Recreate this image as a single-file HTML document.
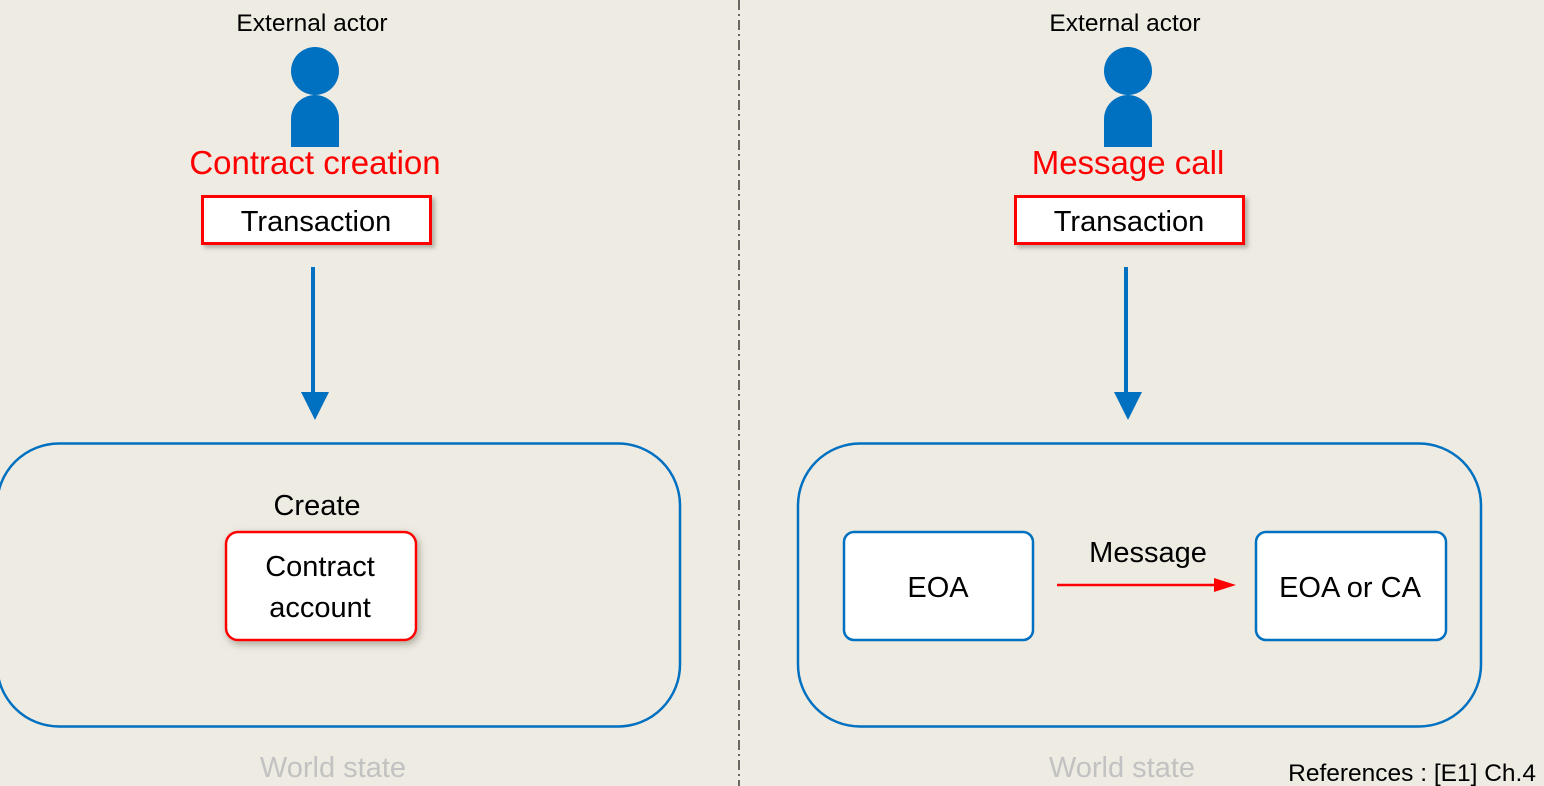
<!DOCTYPE html>
<html><head><style>
html,body{margin:0;padding:0;background:#eeebe3;}
svg{display:block;font-family:"Liberation Sans",Arial,sans-serif;}
</style></head><body>
<svg width="1544" height="786" viewBox="0 0 1544 786">
<defs>
<filter id="sh" x="-20%" y="-20%" width="140%" height="140%"><feDropShadow dx="2" dy="3" stdDeviation="4" flood-color="#8a8a7a" flood-opacity="0.7"/></filter>
<filter id="sh2" x="-20%" y="-30%" width="140%" height="160%"><feDropShadow dx="3" dy="3" stdDeviation="2" flood-color="#8a8a7a" flood-opacity="0.6"/></filter>
</defs>
<rect width="1544" height="786" fill="#eeebe3"/>
<line x1="739" y1="0" x2="739" y2="786" stroke="#222" stroke-width="1.3" stroke-dasharray="10,4,2,4"/>

<!-- Left -->
<text x="312" y="31" font-size="24.5" text-anchor="middle" fill="#000">External actor</text>
<circle cx="315" cy="71" r="24" fill="#0070c0"/>
<path d="M291 147 V119 A24 24 0 0 1 339 119 V147 Z" fill="#0070c0"/>
<text x="315" y="174" font-size="33" text-anchor="middle" fill="#ff0000">Contract creation</text>
<rect x="202.5" y="196.5" width="228" height="47" fill="#fff" stroke="#ff0000" stroke-width="3" filter="url(#sh2)"/>
<text x="316" y="231" font-size="29" text-anchor="middle" fill="#000">Transaction</text>
<line x1="313" y1="267" x2="313" y2="395" stroke="#0070c0" stroke-width="4"/>
<polygon points="301,392 329,392 315,420" fill="#0070c0"/>
<rect x="-3" y="443.5" width="683" height="283" rx="62" fill="none" stroke="#0070c0" stroke-width="2.5"/>
<text x="317" y="515" font-size="29" text-anchor="middle" fill="#000">Create</text>
<rect x="226" y="532" width="190" height="108" rx="12" fill="#fff" stroke="#ff0000" stroke-width="2.5" filter="url(#sh)"/>
<text x="320" y="576" font-size="29" text-anchor="middle" fill="#000">Contract</text>
<text x="320" y="617" font-size="29" text-anchor="middle" fill="#000">account</text>
<text x="333" y="777" font-size="29" text-anchor="middle" fill="#c2c2c2">World state</text>

<!-- Right -->
<text x="1125" y="31" font-size="24.5" text-anchor="middle" fill="#000">External actor</text>
<circle cx="1128" cy="71" r="24" fill="#0070c0"/>
<path d="M1104 147 V119 A24 24 0 0 1 1152 119 V147 Z" fill="#0070c0"/>
<text x="1128" y="174" font-size="33" text-anchor="middle" fill="#ff0000">Message call</text>
<rect x="1015.5" y="196.5" width="228" height="47" fill="#fff" stroke="#ff0000" stroke-width="3" filter="url(#sh2)"/>
<text x="1129" y="231" font-size="29" text-anchor="middle" fill="#000">Transaction</text>
<line x1="1126" y1="267" x2="1126" y2="395" stroke="#0070c0" stroke-width="4"/>
<polygon points="1114,392 1142,392 1128,420" fill="#0070c0"/>
<rect x="798" y="443.5" width="683" height="283" rx="62" fill="none" stroke="#0070c0" stroke-width="2.5"/>
<rect x="844" y="532" width="189" height="108" rx="10" fill="#fff" stroke="#0070c0" stroke-width="2.5"/>
<text x="938" y="597" font-size="29" text-anchor="middle" fill="#000">EOA</text>
<rect x="1256" y="532" width="190" height="108" rx="10" fill="#fff" stroke="#0070c0" stroke-width="2.5"/>
<text x="1350" y="597" font-size="29" text-anchor="middle" fill="#000">EOA or CA</text>
<text x="1148" y="562" font-size="29" text-anchor="middle" fill="#000">Message</text>
<line x1="1057" y1="585" x2="1218" y2="585" stroke="#ff0000" stroke-width="2.5"/>
<polygon points="1214,578 1236,585 1214,592" fill="#ff0000"/>
<text x="1122" y="777" font-size="29" text-anchor="middle" fill="#c2c2c2">World state</text>
<text x="1536" y="781" font-size="24.5" text-anchor="end" fill="#000">References : [E1] Ch.4</text>
</svg>
</body></html>
